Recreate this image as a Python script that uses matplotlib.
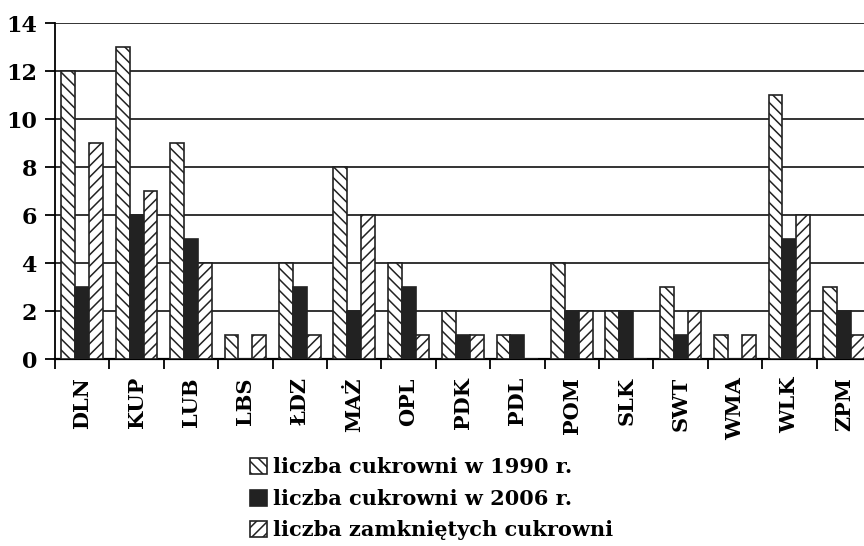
import numpy as np
import matplotlib
matplotlib.use('Agg')
import matplotlib.pyplot as plt

# dane
regiony = ['DLN', 'KUP', 'LUB', 'LBS', 'ŁDZ', 'MAŻ', 'OPL', 'PDK', 'PDL',
           'POM', 'SLK', 'SWT', 'WMA', 'WLK', 'ZPM']
cukrownie_1990 = [12, 13, 9, 1, 4, 8, 4, 2, 1, 4, 2, 3, 1, 11, 3]
cukrownie_2006 = [3, 6, 5, 0, 3, 2, 3, 1, 1, 2, 2, 1, 0, 5, 2]
zamkniete = [9, 7, 4, 1, 1, 6, 1, 1, 0, 2, 0, 2, 1, 6, 1]
etykiety = ['liczba cukrowni w 1990 r.', 'liczba cukrowni w 2006 r.',
            'liczba zamkniętych cukrowni']
yticks = [0, 2, 4, 6, 8, 10, 12, 14]

plt.rcParams['font.family'] = ['DejaVu Serif']
plt.rcParams['font.weight'] = 'bold'
plt.rcParams['hatch.linewidth'] = 1.1

fig = plt.figure(figsize=(8.64, 5.46), dpi=100)
ax = fig.add_axes([55/864, (546-359)/546, 816/864, (359-23)/546])

x = np.arange(len(regiony))
w = 0.255
ax.bar(x - w, cukrownie_1990, w, color='white', edgecolor='#222222',
       hatch='\\\\\\', lw=1.2, label=etykiety[0], zorder=3)
ax.bar(x, cukrownie_2006, w, color='#222222', edgecolor='#222222',
       lw=1.2, label=etykiety[1], zorder=3)
ax.bar(x + w, zamkniete, w, color='white', edgecolor='#222222',
       hatch='///', lw=1.2, label=etykiety[2], zorder=3)

ax.set_xlim(-0.5, len(regiony) - 0.5)
ax.set_ylim(0, 14)
ax.set_yticks(yticks)
ax.yaxis.grid(True, color='#333333', lw=1.4, zorder=0)
ax.set_axisbelow(True)

# ticki miedzy grupami, etykiety na srodku
ax.set_xticks(np.arange(len(regiony) + 1) - 0.5)
ax.set_xticklabels([])
ax.set_xticks(x, minor=True)
ax.set_xticklabels(regiony, minor=True, rotation=90, fontsize=15)
ax.tick_params(axis='x', which='minor', length=0, pad=13)
ax.tick_params(axis='x', which='major', length=7, width=1.3, direction='out')
ax.tick_params(axis='y', length=7, width=1.3, labelsize=16, pad=6)

for s in ['top', 'right']:
    ax.spines[s].set_visible(False)
ax.spines['left'].set_linewidth(1.3)
ax.spines['bottom'].set_linewidth(1.6)

fig.legend(loc='upper left', bbox_to_anchor=(242/864, 1 - 449/546),
           frameon=False, fontsize=15, handlelength=0.8, handleheight=0.8,
           handletextpad=0.3, labelspacing=0.55, borderaxespad=0)

fig.savefig('out.png', dpi=100)
